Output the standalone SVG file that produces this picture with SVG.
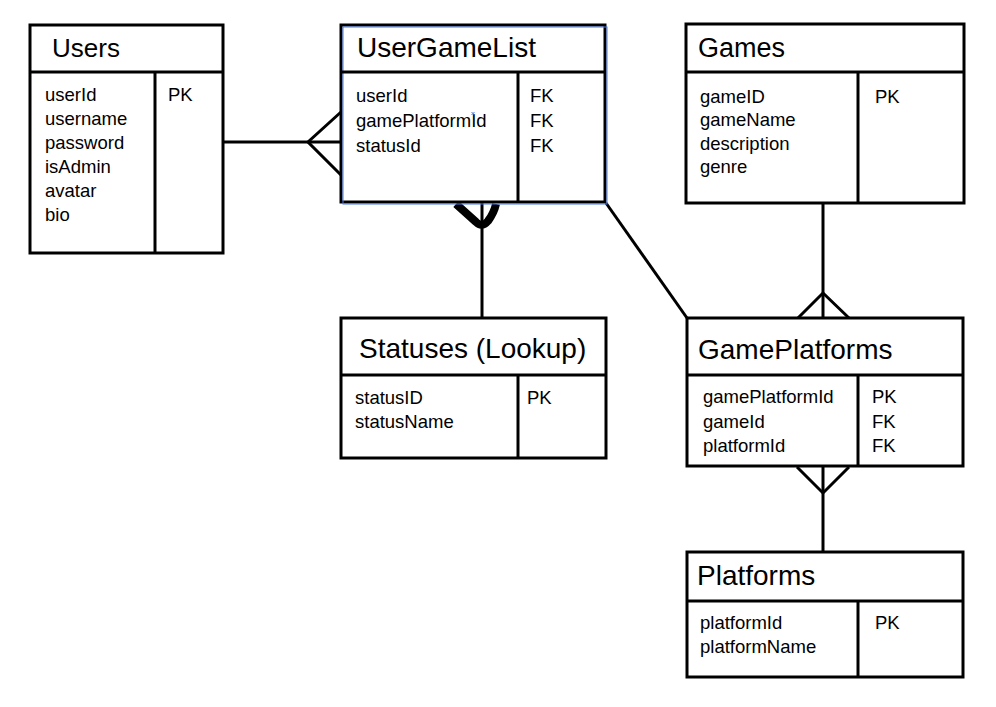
<svg xmlns="http://www.w3.org/2000/svg" width="996" height="707" viewBox="0 0 996 707">
<style>
.box{fill:#fff;stroke:#000;stroke-width:3}
.div{stroke:#000;stroke-width:3;fill:none}
.con{stroke:#000;stroke-width:3;fill:none;stroke-linejoin:miter}
.t{font-family:"Liberation Sans",Arial,sans-serif;font-size:28px;fill:#000}
.b{font-family:"Liberation Sans",Arial,sans-serif;font-size:18.5px;fill:#000}
</style>
<rect width="996" height="707" fill="#fff"/>
<g id="connectors">
<line class="con" x1="223" y1="142" x2="341" y2="142"/>
<polyline class="con" points="341,112 308,142 341,175"/>
<line class="con" x1="482" y1="203" x2="482" y2="318"/>
<path d="M456,204 L476,222 Q482,228 488,221 Q494,213 496,204" stroke="#000" stroke-width="8" fill="none" stroke-linecap="butt"/>
<line class="con" x1="606" y1="203" x2="687" y2="318"/>
<line class="con" x1="823" y1="203" x2="823" y2="318"/>
<polyline class="con" points="798,318 823,293 849,318"/>
<line class="con" x1="823" y1="466" x2="823" y2="552"/>
<polyline class="con" points="797,467 823,493 849,467"/>
</g>
<g id="users">
<rect class="box" x="30" y="25" width="193" height="228"/>
<line class="div" x1="30" y1="72" x2="223" y2="72"/>
<line class="div" x1="155" y1="72" x2="155" y2="253"/>
<text class="t" x="52" y="57" style="font-size:26px">Users</text>
<text class="b" x="45" y="101">userId</text>
<text class="b" x="45" y="125">username</text>
<text class="b" x="45" y="149">password</text>
<text class="b" x="45" y="173">isAdmin</text>
<text class="b" x="45" y="197">avatar</text>
<text class="b" x="45" y="221">bio</text>
<text class="b" x="168" y="101">PK</text>
</g>
<g id="usergamelist">
<rect class="box" x="341" y="25" width="264" height="177"/>
<rect x="343" y="27" width="264" height="177" fill="none" stroke="#4a78e6" stroke-width="1"/>
<line class="div" x1="341" y1="72" x2="605" y2="72"/>
<line class="div" x1="518" y1="72" x2="518" y2="202"/>
<text class="t" x="357" y="57">UserGameList</text>
<text class="b" x="356" y="102">userId</text>
<text class="b" x="356" y="127">gamePlatformId</text>
<text class="b" x="356" y="152">statusId</text>
<text class="b" x="530" y="102">FK</text>
<text class="b" x="530" y="127">FK</text>
<text class="b" x="530" y="152">FK</text>
<path d="M471.5,112 l3,3 M474.5,112 l-3,3" stroke="#4a78e6" stroke-width="1"/>
</g>
<g id="games">
<rect class="box" x="686" y="24" width="278" height="179"/>
<line class="div" x1="686" y1="72" x2="964" y2="72"/>
<line class="div" x1="858" y1="72" x2="858" y2="203"/>
<text class="t" x="698" y="57" style="font-size:27px">Games</text>
<text class="b" x="700" y="103">gameID</text>
<text class="b" x="700" y="126">gameName</text>
<text class="b" x="700" y="150">description</text>
<text class="b" x="700" y="173">genre</text>
<text class="b" x="875" y="103">PK</text>
</g>
<g id="statuses">
<rect class="box" x="341" y="318" width="265" height="140"/>
<line class="div" x1="341" y1="375" x2="606" y2="375"/>
<line class="div" x1="518" y1="375" x2="518" y2="458"/>
<text class="t" x="359" y="358">Statuses (Lookup)</text>
<text class="b" x="355" y="404">statusID</text>
<text class="b" x="355" y="428">statusName</text>
<text class="b" x="527" y="404">PK</text>
</g>
<g id="gameplatforms">
<rect class="box" x="687" y="318" width="276" height="148"/>
<line class="div" x1="687" y1="375" x2="963" y2="375"/>
<line class="div" x1="858" y1="375" x2="858" y2="466"/>
<text class="t" x="698" y="359">GamePlatforms</text>
<text class="b" x="703" y="403">gamePlatformId</text>
<text class="b" x="703" y="428">gameId</text>
<text class="b" x="703" y="452">platformId</text>
<text class="b" x="872" y="403">PK</text>
<text class="b" x="872" y="428">FK</text>
<text class="b" x="872" y="452">FK</text>
</g>
<g id="platforms">
<rect class="box" x="687" y="552" width="276" height="125"/>
<line class="div" x1="687" y1="601" x2="963" y2="601"/>
<line class="div" x1="858" y1="601" x2="858" y2="677"/>
<text class="t" x="697" y="585">Platforms</text>
<text class="b" x="700" y="629">platformId</text>
<text class="b" x="700" y="653">platformName</text>
<text class="b" x="875" y="629">PK</text>
</g>
</svg>
